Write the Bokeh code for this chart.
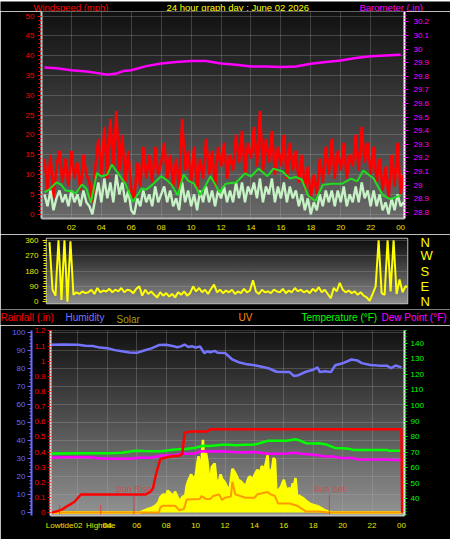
import numpy as np
from bokeh.plotting import figure
from bokeh.layouts import column
from bokeh.models import Range1d, LinearAxis, FixedTicker
from bokeh.core.properties import value
from bokeh.embed import file_html
from bokeh.resources import INLINE

FONT = "Liberation Sans"

# ---------------- data ----------------
hour_ticks = [2, 4, 6, 8, 10, 12, 14, 16, 18, 20, 22, 24]
hour_labels = ["02", "04", "06", "08", "10", "12", "14", "16", "18", "20", "22", "00"]

wind_ticks = [0, 5, 10, 15, 20, 25, 30, 35, 40, 45, 50]
baro_ticks = [28.8, 28.9, 29.0, 29.1, 29.2, 29.3, 29.4, 29.5, 29.6, 29.7, 29.8, 29.9, 30.0, 30.1, 30.2]
baro_labels = ["28.8", "28.9", "29", "29.1", "29.2", "29.3", "29.4", "29.5", "29.6", "29.7",
               "29.8", "29.9", "30", "30.1", "30.2"]

wind_start = 0.2
wind_step = 0.2
gust = [14, 6, 15, 4, 12,
        16, 8, 14, 7, 16,
        9, 13, 6, 15, 10,
        8, 3, 12, 19, 10,
        22, 9, 24, 12, 26,
        11, 20, 8, 16, 6,
        4, 13, 7, 17, 9,
        15, 8, 17, 10, 13,
        18, 9, 15, 7, 14,
        6, 24, 11, 16, 8,
        17, 6, 14, 9, 19,
        10, 16, 7, 17, 12,
        18, 9, 15, 11, 20,
        13, 21, 10, 18, 14,
        22, 12, 26, 11, 19,
        13, 21, 10, 17, 12,
        20, 9, 18, 11, 16,
        8, 15, 6, 12, 4,
        10, 5, 14, 8, 17,
        10, 19, 9, 16, 11,
        18, 9, 15, 12, 20,
        11, 22, 13, 18, 10,
        17, 8, 14, 6, 12,
        4, 15, 7, 18, 5,
        10]
speed = [5, 2, 6, 1, 4,
         6, 3, 5, 2, 6,
         3, 5, 2, 6, 3,
         2, 0, 4, 8, 3,
         9, 4, 8, 3, 10,
         5, 8, 3, 6, 1,
         0, 4, 2, 6, 3,
         5, 2, 7, 3, 5,
         7, 3, 6, 2, 4,
         1, 8, 3, 6, 2,
         5, 1, 6, 3, 7,
         3, 6, 2, 6, 4,
         7, 3, 6, 3, 8,
         4, 8, 3, 7, 5,
         8, 4, 9, 3, 7,
         5, 9, 3, 7, 4,
         8, 3, 7, 4, 6,
         2, 5, 1, 4, 0,
         3, 1, 5, 2, 6,
         3, 6, 2, 6, 3,
         7, 2, 5, 3, 7,
         3, 8, 4, 6, 2,
         6, 2, 5, 1, 3,
         0, 4, 1, 5, 2,
         3]
avg_hours = [0.2, 0.5, 1.0, 1.3, 1.6, 2.0, 2.3, 2.7, 3.0, 3.3,
             3.7, 4.0, 4.4, 4.7, 5.1, 5.6, 6.1, 6.7, 7.0, 7.4,
             8.0, 8.4, 8.7, 9.1, 9.5, 9.8, 10.2, 10.6, 10.9, 11.3,
             11.9, 12.3, 13.0, 13.6, 14.0, 14.5, 15.1, 15.5, 16.1, 16.6,
             17.0, 17.4, 17.8, 18.3, 18.8, 19.4, 20.1, 20.7, 21.1, 21.5,
             22.2, 22.8, 23.3, 23.7, 24.0]
avg_speed = [5.5, 6.2, 8.0, 7.5, 6.0, 5.8, 5.3, 7.5, 6.5, 2.9,
             10.4, 9.5, 10.0, 12.5, 10.4, 7.7, 3.1, 6.5, 6.2, 7.4,
             9.6, 8.5, 7.4, 4.8, 10.0, 8.5, 7.7, 4.8, 6.8, 9.6,
             5.5, 7.7, 8.0, 10.3, 9.5, 11.5, 9.6, 11.5, 10.8, 9.0,
             9.4, 8.7, 4.8, 3.3, 7.4, 7.7, 7.7, 9.0, 8.3, 11.0,
             9.0, 4.8, 3.8, 4.3, 4.8]
baro_hours = [0.2, 1, 2, 3, 4, 4.4, 5, 5.5, 6, 7, 8, 9, 10, 11, 12, 13, 14,
              15, 16, 17, 18, 19, 20, 21, 22, 23, 24]
baro = [29.865, 29.86, 29.845, 29.835, 29.82, 29.812, 29.82, 29.84, 29.845, 29.875,
        29.895, 29.905, 29.913, 29.912, 29.895, 29.885, 29.872, 29.872, 29.868, 29.873,
        29.893, 29.905, 29.917, 29.935, 29.948, 29.953, 29.958]

direction = [350, 70, 35, 360, 10,
             360, 0, 355, 40, 55,
             45, 60, 50, 55, 70,
             45, 80, 55, 65, 60,
             75, 55, 70, 60, 80,
             55, 70, 65, 50, 75,
             90, 35, 70, 45, 60,
             40, 25, 55, 35, 50,
             30, 45, 25, 55, 40,
             60, 35, 50, 90, 60,
             80, 55, 70, 45, 75,
             100, 55, 70, 50, 65,
             55, 70, 45, 60, 50,
             75, 55, 65, 125, 60,
             45, 70, 55, 60, 50,
             70, 60, 55, 75, 50,
             65, 55, 80, 60, 70,
             55, 65, 50, 75, 60,
             85, 55, 70, 45, 20,
             80, 60, 110, 70, 55,
             65, 50, 60, 40, 55,
             35, 25, 5, 45, 90,
             360, 50, 40, 360, 60,
             360, 45, 130, 55, 90,
             85]
dir_ticks = [0, 90, 180, 270, 360]
dir_labels = ["0", "90", "180", "270", "360"]
compass_labels = ["N", "E", "S", "W", "N"]

rain_ticks = [0, 0.1, 0.2, 0.3, 0.4, 0.5, 0.6, 0.7, 0.8, 0.9, 1.0, 1.1, 1.2]
rain_labels = ["0", "0.1", "0.2", "0.3", "0.4", "0.5", "0.6", "0.7", "0.8", "0.9", "1", "1.1", "1.2"]
hum_ticks = [0, 10, 20, 30, 40, 50, 60, 70, 80, 90, 100]
temp_ticks = [40, 50, 60, 70, 80, 90, 100, 110, 120, 130, 140]

rain_hours = [0.2, 0.6, 0.9, 1.3, 1.75, 2.2, 6.6, 6.9, 7.1, 7.3,
              7.6, 8.3, 8.9, 9.1, 9.25, 9.6, 10.8, 11.0, 24.0, 24.05]
rain = [0, 0.01, 0.02, 0.045, 0.07, 0.12, 0.12, 0.135, 0.16, 0.25,
        0.355, 0.37, 0.375, 0.39, 0.527, 0.535, 0.535, 0.55, 0.55, 0]

hum_hours = [0.2, 1.0, 2.0, 2.5, 3.0, 3.5, 4.0, 4.5, 5.0, 5.5, 6.0, 6.5, 7.0, 7.5, 8.0,
             8.5, 8.75, 9.0, 9.25, 9.5, 9.75, 10.0, 10.3, 10.6, 10.8, 11.0, 11.3, 11.5,
             12.0, 12.5, 13.0, 13.5, 14.0, 14.5, 15.0, 15.5, 16.0, 16.4, 16.7, 17.0, 17.5,
             18.0, 18.3, 18.45, 18.8, 19.2, 19.5, 20.0, 20.6, 21.0, 21.3, 21.9, 22.5, 23.0,
             23.3, 23.6, 24.0]
humidity = [93.2, 93.3, 93.2, 92.6, 92.5, 91.6, 91.3, 90.2, 89.6, 88.9, 88.7, 90.0, 91.2, 93.0, 93.2,
            92.4, 91.8, 92.3, 93.3, 91.9, 92.4, 91.6, 92.2, 88.5, 89.6, 89.0, 89.8, 88.7,
            88.6, 85.0, 83.3, 82.3, 81.8, 81.0, 80.0, 78.2, 78.0, 78.0, 75.8, 76.3, 78.2,
            79.3, 80.6, 78.0, 78.5, 78.0, 81.8, 82.9, 85.0, 84.5, 83.0, 82.0, 81.6, 81.6,
            80.2, 81.7, 80.6]

temp_hours = [0.2, 1, 2, 3, 4, 4.6, 5, 5.9, 6.5, 7, 7.7, 8.2, 8.6, 9.3, 9.9, 10.5, 11, 11.8,
              12.3, 12.7, 13.3, 14.0, 14.3, 14.9, 15.5, 16.2, 16.8, 17.1, 17.5, 18.0, 18.4,
              18.9, 19.5, 20.0, 20.4, 20.7, 21.5, 22.3, 23.0, 23.2, 24.0]
temperature = [69.2, 69.2, 69.3, 69.3, 69.4, 69.5, 69.7, 71.0, 70.8, 70.7, 70.6, 71.3, 71.7,
               72.0, 72.7, 74.2, 74.0, 74.8, 74.8, 74.4, 74.8, 75.0, 75.6, 77.3, 77.3, 77.3,
               78.3, 77.5, 75.8, 75.6, 75.8, 74.9, 72.7, 72.6, 72.3, 71.5, 71.5, 71.5, 71.5,
               70.9, 70.9]

dew_hours = [0.2, 1, 2, 2.9, 3.5, 4.5, 5.5, 6.1, 7.0, 7.7, 8.6, 9.0, 9.9, 10.3, 11.0, 11.8,
             12.5, 13.4, 14.0, 14.9, 15.5, 16.2, 16.8, 17.2, 17.8, 18.2, 18.8, 19.4, 19.8,
             20.7, 21.0, 22.0, 23.0, 23.5, 24.0]
dew_point = [66.5, 66.7, 66.8, 66.8, 65.9, 65.8, 65.8, 66.5, 66.5, 67.9, 67.9, 69.0, 69.0,
             70.6, 70.4, 70.6, 70.2, 69.8, 70.2, 69.0, 69.0, 69.2, 69.6, 69.0, 68.6, 68.2,
             67.2, 67.2, 66.3, 66.3, 65.4, 65.4, 65.4, 65.0, 65.0]

solar_hours = [0.2, 6.2, 6.4, 6.7, 7.0, 7.3, 7.5, 7.6, 7.8, 8.0,
               8.1, 8.3, 8.5, 8.6, 8.8, 8.9, 9.1, 9.3, 9.4, 9.5,
               9.7, 9.8, 10.0, 10.1, 10.2, 10.3, 10.4, 10.5, 10.6, 10.7,
               10.8, 10.9, 11.0, 11.1, 11.3, 11.4, 11.5, 11.7, 11.8, 12.0,
               12.2, 12.3, 12.5, 12.6, 12.8, 12.9, 13.1, 13.2, 13.4, 13.6,
               13.7, 13.9, 14.0, 14.2, 14.4, 14.5, 14.7, 14.8, 14.9, 15.0,
               15.1, 15.2, 15.3, 15.4, 15.5, 15.6, 15.8, 16.0, 16.1, 16.2,
               16.4, 16.5, 16.6, 16.7, 16.8, 16.9, 17.1, 17.3, 17.5, 17.8,
               18.0, 18.3, 18.6, 18.8, 19.0, 19.3, 24.0]
solar = [0, 0, 8, 18, 25, 40, 60, 85, 100, 95,
         120, 105, 90, 115, 80, 60, 85, 95, 150, 175,
         210, 190, 200, 260, 310, 240, 280, 400, 220, 330,
         285, 200, 165, 250, 270, 190, 140, 210, 185, 165,
         130, 120, 240, 230, 200, 180, 170, 160, 145, 190,
         200, 180, 205, 235, 220, 255, 240, 280, 315, 185,
         230, 240, 300, 290, 95, 120, 140, 180, 150, 125,
         135, 120, 160, 150, 190, 95, 90, 80, 65, 48,
         42, 35, 22, 12, 6, 0, 0]

uv_hours = [0.2, 7.5, 7.6, 7.8, 8.6, 8.9, 9.2, 9.4, 10.3, 10.4,
            10.7, 11.0, 11.2, 11.6, 11.8, 12.0, 12.4, 12.5, 12.7, 13.4,
            14.0, 14.2, 14.9, 15.1, 15.4, 15.6, 16.4, 16.9, 17.5, 18.4,
            19.0, 24.0]
uv = [0, 0, 0.45, 0.6, 0.6, 0.2, 0.3, 1.15, 1.2, 1.45,
      1.2, 1.2, 1.45, 1.6, 1.1, 1.3, 1.4, 2.7, 1.6, 1.3,
      1.3, 1.6, 1.8, 1.6, 1.45, 0.8, 0.8, 0.6, 0.1, 0.1,
      0, 0]

tide_hours = [0.75, 3.55]
tide_names = ["Lowtide", "Hightide"]
sun_hours = [5.8, 19.1]
sun_names = ["Sun Rise", "Sun Set"]

top_titles = ["Windspeed (mph)", "24 hour graph day : June 02 2026", "Barometer (.in)"]
top_title_colors = ["#ff0000", "#ffff00", "#ff00ff"]
bottom_titles = ["Rainfall (.in)", "Humidity", "Solar", "UV", "Temperature (°F)", "Dew Point (°F)"]
bottom_title_colors = ["#ff0000", "#7474ff", "#a0a000", "#ff8c00", "#00ff00", "#ff00ff"]

# ---------------- helpers ----------------
W = 450


def gradient(p, x0, x1, y0, y1, top, bottom, n=80):
    img = np.empty((n, 1), dtype=np.uint32)
    v = img.view(dtype=np.uint8).reshape((n, 1, 4))
    for i in range(n):
        t = i / (n - 1)
        g = int(round(bottom + (top - bottom) * t))
        v[i, 0, :] = (g, g, g, 255)
    p.image_rgba(image=[img], x=x0, y=y0, dw=x1 - x0, dh=y1 - y0, level="image")


def style_axis(ax, color, ticks, labels=None, minor=None, line_color=None, line_width=1,
               tick_out=4, minor_out=2, standoff=3, size="8px"):
    ax.ticker = FixedTicker(ticks=ticks, minor_ticks=minor or [])
    if labels is not None:
        ax.major_label_overrides = dict(zip(ticks, labels))
    ax.major_label_text_color = color
    ax.major_label_text_font = FONT
    ax.major_label_text_font_size = size
    ax.major_tick_line_color = color if tick_out else None
    ax.major_tick_out = tick_out
    ax.major_tick_in = 0
    ax.minor_tick_line_color = color if minor else None
    ax.minor_tick_out = minor_out
    ax.minor_tick_in = 0
    ax.axis_line_color = line_color
    ax.axis_line_width = line_width
    ax.major_label_standoff = standoff


def style_grid(g, ticks):
    g.ticker = FixedTicker(ticks=ticks)
    g.grid_line_color = "#b4b4b4"
    g.grid_line_alpha = 0.55
    g.grid_line_dash = "1 1"
    g.grid_line_width = 1


common = dict(output_backend="svg", toolbar_location=None, background_fill_color="black",
              border_fill_color="black", title_location=None)


def no_align(f):
    try:
        f.frame_align = False
    except Exception:
        pass
    return f


def header(height, xs, ys, texts, colors, size):
    # a text strip: x in canvas pixels, y = vertical centre in pixels from the top
    h = figure(width=W, height=height, x_range=Range1d(0, W), y_range=Range1d(height, 0),
               x_axis_location=None, y_axis_location=None, min_border=0,
               outline_line_color=None, **common)
    h.xgrid.visible = False
    h.ygrid.visible = False
    h.text(x=xs, y=ys, text=texts, text_color=colors, text_font=value(FONT),
           text_font_size=size, text_baseline="middle", text_align="left")
    return no_align(h)


# ---------------- top: wind + barometer ----------------
h1 = header(11, [33, 166, 359], [5.5, 5.5, 5.5], top_titles, top_title_colors, "9.5px")

X1 = (0, 24.26)
Y1 = (-1.085, 51.16)
p1 = figure(width=W, height=223, x_range=Range1d(*X1), y_range=Range1d(*Y1),
            min_border_left=41, min_border_right=46, min_border_top=0, min_border_bottom=16,
            outline_line_color=None, **common)
no_align(p1)
p1.extra_y_ranges = {"baro": Range1d(28.754, 30.277)}
gradient(p1, X1[0], X1[1], Y1[0], Y1[1], top=18, bottom=104)
style_grid(p1.xgrid, hour_ticks[:-1])
style_grid(p1.ygrid, wind_ticks)

wind_hours = [round(wind_start + i * wind_step, 2) for i in range(len(gust))]
p1.line(wind_hours, gust, color="#ff0000", line_width=2.6)
p1.line(wind_hours, speed, color="#c6f2c6", line_width=2.4)
p1.line(avg_hours, avg_speed, color="#20dd20", line_width=2)
p1.line(baro_hours, baro, color="#ff00ff", line_width=2.5, y_range_name="baro")

style_axis(p1.yaxis[0], "#ff0000", wind_ticks, minor=list(range(0, 51)),
           line_color="#c8c8c8", line_width=2, tick_out=4, minor_out=3, standoff=3)
style_axis(p1.xaxis[0], "#e6e600", hour_ticks, hour_labels, line_color="#b4b4b4",
           line_width=2, tick_out=0, standoff=6)
baro_ax = LinearAxis(y_range_name="baro")
style_axis(baro_ax, "#ff00ff", baro_ticks, baro_labels,
           minor=[round(28.75 + 0.025 * i, 3) for i in range(62)],
           line_color="#ffffff", line_width=2, tick_out=4, minor_out=2, standoff=5)
p1.add_layout(baro_ax, "right")

# ---------------- middle: wind direction ----------------
X2 = (0, 24.13)
Y2 = (-11, 371)
p2 = figure(width=W, height=75, x_range=Range1d(*X2), y_range=Range1d(*Y2),
            x_axis_location=None,
            min_border_left=46, min_border_right=43, min_border_top=4, min_border_bottom=6,
            outline_line_color="#b8b8b8", outline_line_width=1.5, **common)
no_align(p2)
gradient(p2, X2[0], X2[1], Y2[0], Y2[1], top=12, bottom=140)
p2.xgrid.visible = False
style_grid(p2.ygrid, [90, 180, 270, 360])
p2.line(wind_hours, direction, color="#ffff00", line_width=2)
style_axis(p2.yaxis[0], "#e6e600", dir_ticks, dir_labels, minor=list(range(0, 361, 15)),
           line_color=None, tick_out=4, minor_out=3, standoff=4)
cmp_ax = LinearAxis()
style_axis(cmp_ax, "#ffff00", dir_ticks, compass_labels, line_color=None, tick_out=0,
           standoff=13, size="13px")
p2.add_layout(cmp_ax, "right")

# ---------------- bottom: rain, humidity, temp, solar, uv ----------------
h3 = header(16, [0, 65, 116, 238, 301, 381], [8.3, 8.3, 10.2, 8.3, 8.3, 8.3],
            bottom_titles, bottom_title_colors, "10px")

X3 = (0.13, 24.21)
Y3 = (-0.019, 1.2026)
p3 = figure(width=W, height=214, x_range=Range1d(*X3), y_range=Range1d(*Y3),
            min_border_left=50, min_border_right=46, min_border_top=5, min_border_bottom=24,
            outline_line_color=None, **common)
no_align(p3)
p3.extra_y_ranges = {"hum": Range1d(-1.6, 101.1), "temp": Range1d(29.4, 148.1),
                     "solar": Range1d(-16, 1000), "uv": Range1d(-0.26, 16)}
gradient(p3, X3[0], X3[1], Y3[0], Y3[1], top=18, bottom=146)
style_grid(p3.xgrid, hour_ticks[:-1])
p3.ygrid.y_range_name = "hum"
style_grid(p3.ygrid, hum_ticks[1:])

p3.varea(x=solar_hours, y1=0, y2=solar, fill_color="#ffff00", y_range_name="solar")
p3.line(solar_hours, solar, color="#ffff00", line_width=2.5, y_range_name="solar")
p3.line(uv_hours, uv, color="#ff9a00", line_width=2, y_range_name="uv")
p3.line(hum_hours, humidity, color="#7474ff", line_width=2.5, y_range_name="hum")
p3.line(temp_hours, temperature, color="#00ff00", line_width=2.5, y_range_name="temp")
p3.line(dew_hours, dew_point, color="#ff00ff", line_width=2.5, y_range_name="temp")
p3.line(rain_hours, rain, color="#ff0000", line_width=2.5)

p3.segment(x0=tide_hours, y0=[-0.02] * len(tide_hours), x1=tide_hours,
           y1=[0.05] * len(tide_hours), color="#ff2020", alpha=0.7, line_width=1)
p3.segment(x0=sun_hours, y0=[-0.02] * len(sun_hours), x1=sun_hours,
           y1=[0.12] * len(sun_hours), color="#ff2020", alpha=0.7, line_width=1)
p3.text(x=sun_hours, y=[0.125] * len(sun_hours), text=sun_names, text_color="#ff2020",
        text_alpha=0.55, text_font=value(FONT), text_font_size="9px",
        text_align="center", text_baseline="bottom")

style_axis(p3.yaxis[0], "#ff0000", rain_ticks, rain_labels,
           minor=[round(0.02 * i, 2) for i in range(61)],
           line_color="#d8d8d8", line_width=2, tick_out=3, minor_out=2, standoff=2)
hum_ax = LinearAxis(y_range_name="hum")
style_axis(hum_ax, "#6a6aff", hum_ticks, minor=list(range(0, 101, 2)),
           line_color="#6a6aff", line_width=2, tick_out=4, minor_out=2, standoff=2)
p3.add_layout(hum_ax, "left")
temp_ax = LinearAxis(y_range_name="temp")
style_axis(temp_ax, "#00ff00", temp_ticks, minor=list(range(30, 149, 2)),
           line_color="#e8e8e8", line_width=2, tick_out=3, minor_out=2, standoff=3)
p3.add_layout(temp_ax, "right")
x3_ticks = hour_ticks + tide_hours
x3_labels = hour_labels + tide_names
style_axis(p3.xaxis[0], "#e6e600", x3_ticks, x3_labels, line_color="#c0c0c0",
           line_width=2, tick_out=0, standoff=5)

layout = column(h1, p1, p2, h3, p3, spacing=0)
open("out.html", "w").write(file_html(layout, INLINE))
